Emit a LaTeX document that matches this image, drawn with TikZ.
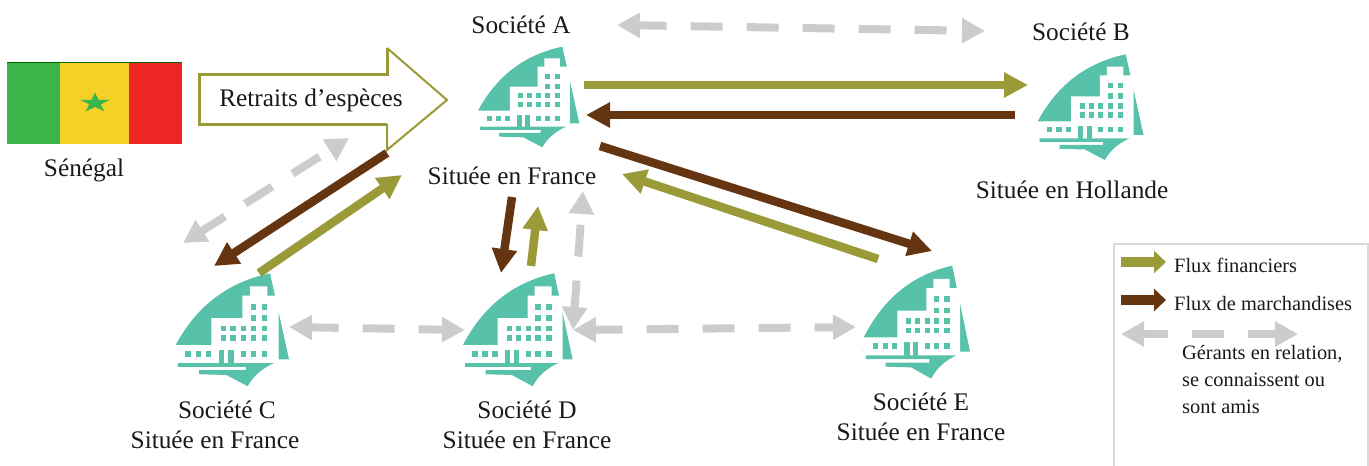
\documentclass[tikz,border=0pt]{standalone}
\usepackage{fontspec}
\setmainfont{Liberation Serif}
\usetikzlibrary{arrows.meta,shapes.geometric}
\definecolor{olivef}{HTML}{9A9A38}
\definecolor{brownm}{HTML}{653512}
\definecolor{greyg}{HTML}{CCCCCC}
\definecolor{tealb}{HTML}{58C1A9}
\definecolor{fgreen}{HTML}{39B54A}
\definecolor{fyellow}{HTML}{F5D027}
\definecolor{fred}{HTML}{EE2524}
\tikzset{
  lab/.style={inner sep=0pt,font=\fontsize{25.3}{30}\selectfont,align=center,text=black!90},
  leg/.style={inner sep=0pt,anchor=west,font=\fontsize{20.4}{27}\selectfont,align=left,text=black!90},
  fin/.style={line width=8.5pt,draw=olivef,-{Triangle[length=24pt,width=24pt]}},
  mar/.style={line width=8.5pt,draw=brownm,-{Triangle[length=24pt,width=24pt]}},
  fineleg/.style={line width=10.5pt,draw=olivef,-{Triangle[length=12pt,width=22pt]}},
  marleg/.style={line width=10.5pt,draw=brownm,-{Triangle[length=12pt,width=22pt]}},
  rel/.style={line width=8pt,draw=greyg,dash pattern=on 32pt off 24pt,dash phase=4pt,{Triangle[length=23pt,width=24pt]}-{Triangle[length=23pt,width=24pt]}},
  ico/.pic={
    \begin{scope}[x=0.3333pt,y=-0.3333pt]
      \fill[tealb] (55,210) .. controls (110,110) and (190,45) .. (307,20) -- (358,250) -- (50,250) -- cycle;
      \fill[white] (50,212) -- (150,212) -- (150,140) -- (233,140) -- (233,80) -- (253,80) -- (253,55) -- (300,55) -- (300,80) -- (330,80) -- (330,252) -- (50,252) -- cycle;
      \fill[tealb] (60,260) -- (318,260) .. controls (285,275) and (262,295) .. (247,322) -- (190,292) -- (117,290) -- (117,279) -- (242,279) -- (242,270) -- (60,270) -- cycle;
      \foreach \wx in {255,285} \foreach \wy in {102,132} \fill[tealb] (\wx,\wy) rectangle ++(15,15);
      \foreach \wx in {175,201,228,255,285} \foreach \wy in {160,186} \fill[tealb] (\wx,\wy) rectangle ++(15,15);
      \foreach \wx in {80,108,135,228,255,285} \fill[tealb] (\wx,228) rectangle ++(15,15);
      \fill[tealb] (170,225) rectangle (185,262);
      \fill[tealb] (195,225) rectangle (210,262);
    \end{scope}
  }
}
\begin{document}
\begin{tikzpicture}[x=1pt,y=-1pt]
\useasboundingbox (0,0) rectangle (1369,466);
% flag
\fill[fgreen] (7,62) rectangle (60,144);
\fill[fyellow] (60,62) rectangle (129,144);
\fill[fred] (129,62) rectangle (182,144);
\draw[black!60!green,line width=.5pt] (7,62) -- (182,62);
\node[star,star points=5,star point ratio=2.618,fill=fgreen,inner sep=0pt,minimum size=32pt,yscale=.65,transform shape] (etoile) at (95,103) {};
\node[lab] (senegal) at (84,170) {Sénégal};
% outlined arrow
\fill[white] (199,74) -- (387,74) -- (387,48) -- (447,100) -- (387,150) -- (387,124) -- (199,124) -- cycle;
\draw[olivef,line width=3pt] (387,124) -- (199,124) -- (199,74) -- (387,74) -- (387,48);
\draw[olivef,line width=2pt,line join=miter,miter limit=10] (387,48) -- (447,100) -- (387,150) -- (387,124);
\node[lab] (retraits) at (311,100) {Retraits d’espèces};
% icons
\begin{scope}[shift={(460,40)}] \pic[transform shape] at (0,0) {ico}; \end{scope}
\begin{scope}[shift={(1018.8,47.3)},xscale=1.045,yscale=1.05] \pic[transform shape] at (0,0) {ico}; \end{scope}
\begin{scope}[shift={(155.5,265.8)},xscale=1.119,yscale=1.122] \pic[transform shape] at (0,0) {ico}; \end{scope}
\begin{scope}[shift={(443.4,265.8)},xscale=1.083,yscale=1.122] \pic[transform shape] at (0,0) {ico}; \end{scope}
\begin{scope}[shift={(844.75,258.2)},xscale=1.05,yscale=1.122] \pic[transform shape] at (0,0) {ico}; \end{scope}
% labels
\node[lab] (socA) at (521,25) {Société A};
\node[lab] (socAs) at (512,176) {Située en France};
\node[lab] (socB) at (1081,32) {Société B};
\node[lab] (socBs) at (1072,190) {Située en Hollande};
\node[lab] (socC) at (227,410) {Société C};
\node[lab] (socCs) at (215,440) {Située en France};
\node[lab] (socD) at (527,425) {Société D\\Située en France};
\node[lab] (socE) at (921,417) {Société E\\Située en France};
% connector ends
\coordinate (ab1) at (584,85); \coordinate (ab2) at (1028,85);
\coordinate (ba1) at (1015,115); \coordinate (ba2) at (586,115);
\coordinate (ae1) at (600,146); \coordinate (ae2) at (932,251);
\coordinate (ea1) at (878,259); \coordinate (ea2) at (622,174);
\coordinate (ac1) at (387,153); \coordinate (ac2) at (214,266);
\coordinate (ca1) at (259,273); \coordinate (ca2) at (402,175);
\coordinate (ad1) at (512,197); \coordinate (ad2) at (501,273);
\coordinate (da1) at (531,266); \coordinate (da2) at (538,206);
\coordinate (gab1) at (617,25); \coordinate (gab2) at (985,31);
\coordinate (gac1) at (349,138); \coordinate (gac2) at (183,243);
\coordinate (gcd1) at (289,327); \coordinate (gcd2) at (465,330);
\coordinate (gde1) at (573,330); \coordinate (gde2) at (856,327);
\coordinate (gad1) at (583,191); \coordinate (gad2) at (573,330);
\draw[fin] (ab1) -- (ab2);
\draw[mar] (ba1) -- (ba2);
\draw[mar] (ae1) -- (ae2);
\draw[fin] (ea1) -- (ea2);
\draw[mar] (ac1) -- (ac2);
\draw[fin] (ca1) -- (ca2);
\draw[mar] (ad1) -- (ad2);
\draw[fin] (da1) -- (da2);
\draw[rel] (gab1) -- (gab2);
\draw[rel] (gac2) -- (gac1);
\draw[rel] (gcd1) -- (gcd2);
\draw[rel] (gde1) -- (gde2);
\draw[rel] (gad2) -- (gad1);
% legend
\draw[draw=black!15,line width=1.5pt] (1114,470) -- (1114,244) -- (1368,244) -- (1368,470);
\coordinate (l1a) at (1121,262); \coordinate (l1b) at (1166,262);
\coordinate (l2a) at (1121,300); \coordinate (l2b) at (1166,300);
\coordinate (l3a) at (1121,334); \coordinate (l3b) at (1298,334);
\draw[fineleg] (l1a) -- (l1b);
\draw[marleg] (l2a) -- (l2b);
\draw[rel] (l3b) -- (l3a);
\node[leg] (lf) at (1174,265) {Flux financiers};
\node[leg] (lm) at (1174,304) {Flux de marchandises};
\node[leg] (lg) at (1182,380) {Gérants en relation,\\se connaissent ou\\sont amis};
\end{tikzpicture}
\end{document}
